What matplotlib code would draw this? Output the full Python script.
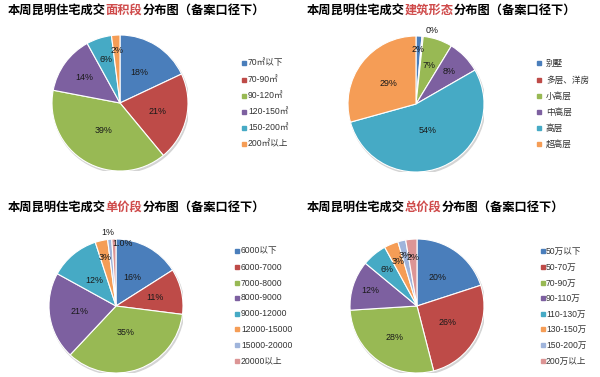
import numpy as np
import matplotlib
matplotlib.use("Agg")
import matplotlib.pyplot as plt
from matplotlib.patches import Rectangle, Circle

plt.rcParams['font.family'] = ['Noto Sans CJK SC', 'DejaVu Sans']

# ---------------- data ----------------
area_labels = ["70㎡以下", "70-90㎡", "90-120㎡", "120-150㎡", "150-200㎡", "200㎡以上"]
area_values = [18, 21, 39, 14, 6, 2]
area_pct = ["18%", "21%", "39%", "14%", "6%", "2%"]

form_labels = ["别墅", "多层、洋房", "小高层", "中高层", "高层", "超高层"]
form_values = [1.4, 0.3, 7, 8, 54, 29.3]
form_pct = ["2%", "0%", "7%", "8%", "54%", "29%"]

unit_labels = ["6000以下", "6000-7000", "7000-8000", "8000-9000", "9000-12000",
               "12000-15000", "15000-20000", "20000以上"]
unit_values = [16, 11, 35, 21, 12, 3, 1, 1]
unit_pct = ["16%", "11%", "35%", "21%", "12%", "3%", "1%", "1.0%"]

total_labels = ["50万以下", "50-70万", "70-90万", "90-110万", "110-130万",
                "130-150万", "150-200万", "200万以上"]
total_values = [20, 26, 28, 12, 6, 3.4, 1.9, 2.7]
total_pct = ["20%", "26%", "28%", "12%", "6%", "3%", "3%", "2%"]

titles = [("本周昆明住宅成交", "面积段", "分布图（备案口径下）"),
          ("本周昆明住宅成交", "建筑形态", "分布图（备案口径下）"),
          ("本周昆明住宅成交", "单价段", "分布图（备案口径下）"),
          ("本周昆明住宅成交", "总价段", "分布图（备案口径下）")]

# ---------------- style ----------------
colors = ["#4A7EBB", "#BE4B48", "#98B954", "#7D60A0", "#46AAC5", "#F59D56",
          "#9FB4DB", "#DC9595"]
title_red = "#CF4B4B"

W, H = 600, 377
fig = plt.figure(figsize=(6, 3.77), dpi=100)
fig.patch.set_facecolor("white")


def fx(x):
    return x / W


def fy(y):
    return 1 - y / H


def draw_title(x, y, parts, size=8.8):
    em = size * 100 / 72
    pos = x
    for i, part in enumerate(parts):
        fig.text(fx(pos), fy(y), part, fontsize=size, fontweight="bold",
                 color=title_red if i == 1 else "black", ha="left", va="center")
        pos += em * len(part)


def draw_pie(cx, cy, r, values, pct, dists, overrides=None):
    ax = fig.add_axes([fx(cx - r), fy(cy + r), 2 * r / W, 2 * r / H])
    ax.add_patch(Circle((0.015, -0.025), 1.0, color="#d4d4d4", zorder=0))
    ax.pie(values, colors=colors[:len(values)], startangle=90, counterclock=False,
           radius=1, wedgeprops=dict(edgecolor="white", linewidth=0.8))
    ax.set_aspect("equal")
    ax.axis("off")
    total = sum(values)
    cum = np.cumsum([0] + list(values))
    for i, lab in enumerate(pct):
        if overrides and i in overrides:
            tx, ty = overrides[i]
        else:
            mid = (cum[i] + cum[i + 1]) / 2 / total
            ang = np.deg2rad(90 - 360 * mid)
            tx, ty = dists[i] * np.cos(ang), dists[i] * np.sin(ang)
        ax.text(tx, ty, lab, ha="center", va="center", fontsize=6.4,
                family=["Liberation Sans", "DejaVu Sans"], color="#1a1a1a")
    # keep the pie at its box size
    ax.set_xlim(-1, 1)
    ax.set_ylim(-1, 1)


def draw_legend(mx, tx, ys, labels):
    for i, (y, lab) in enumerate(zip(ys, labels)):
        fig.patches.append(Rectangle((fx(mx), fy(y + 2)), 4 / W, 4 / H,
                                     transform=fig.transFigure, color=colors[i]))
        fig.text(fx(tx), fy(y), lab, fontsize=6.2, ha="left", va="center",
                 family=["Liberation Sans", "Noto Sans CJK SC"], color="#333333")


draw_title(8, 10, titles[0])
draw_title(307, 10, titles[1])
draw_title(8, 207, titles[2])
draw_title(307, 207, titles[3])

draw_pie(120, 103, 68, area_values, area_pct, [0.53, 0.56, 0.47, 0.65, 0.68, 0.77])
draw_pie(416, 104, 68, form_values, form_pct, [0.8, 1.0, 0.6, 0.68, 0.43, 0.51],
         overrides={1: (0.23, 1.08)})
draw_pie(116, 306, 67, unit_values, unit_pct, [0.49, 0.59, 0.42, 0.55, 0.5, 0.74, 1, 1],
         overrides={6: (-0.12, 1.09), 7: (0.1, 0.93)})
draw_pie(417, 306, 67, total_values, total_pct, [0.52, 0.52, 0.58, 0.74, 0.7, 0.72, 0.78, 0.73])

legend_y6 = [63, 80, 96, 112, 128, 144]
legend_y8 = [251, 267, 283, 298, 314, 329, 345, 361]
draw_legend(242, 248, legend_y6, area_labels)
draw_legend(537, 546, legend_y6, form_labels)
draw_legend(235, 241, legend_y8, unit_labels)
draw_legend(541, 546, legend_y8, total_labels)

fig.savefig("out.png", dpi=100)
